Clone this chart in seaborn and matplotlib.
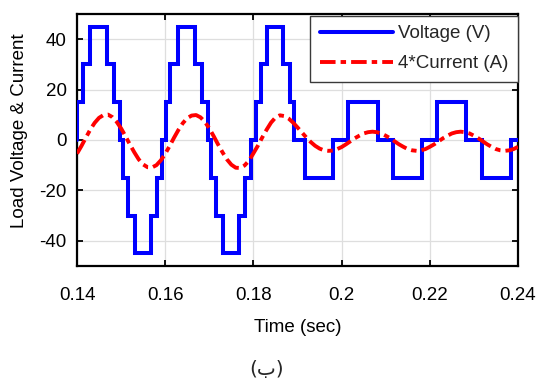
import numpy as np
import pandas as pd
import matplotlib
matplotlib.use("Agg")
import matplotlib.pyplot as plt
import seaborn as sns

# ---- data ----
# stepped load voltage: time of each switching instant and the level held after it
volt_t = [0.1400, 0.1401, 0.1413, 0.1430, 0.1469, 0.1484, 0.1497, 0.1504, 0.1516, 0.1532,
          0.1567, 0.1582, 0.1593,
          0.1601, 0.1612, 0.1630, 0.1668, 0.1683, 0.1696, 0.1704, 0.1716, 0.1732,
          0.1767, 0.1782, 0.1794,
          0.1806, 0.1817, 0.1830, 0.1868, 0.1883, 0.1893, 0.1917, 0.1981,
          0.2015, 0.2083, 0.2117, 0.2183, 0.2216, 0.2282, 0.2318, 0.2384, 0.2400]
volt_v = [0, 15, 30, 45, 30, 15, 0, -15, -30, -45,
          -30, -15, 0,
          15, 30, 45, 30, 15, 0, -15, -30, -45,
          -30, -15, 0,
          15, 30, 45, 30, 15, 0, -15, 0,
          15, 0, -15, 0, 15, 0, -15, 0, 0]

# 4*current sampled every millisecond from 0.14 s to 0.24 s
cur_t = np.linspace(0.14, 0.24, 101)
cur_v = [-5.4, -2.4, 0.9, 4.1, 6.8, 8.8, 9.9, 10.1, 9.1, 7.2,
         4.6, 1.5, -1.8, -4.9, -7.7, -9.7, -10.8, -10.9, -10.0, -8.1,
         -5.5, -2.4, 0.9, 4.0, 6.7, 8.7, 9.7, 9.9, 9.0, 7.2,
         4.6, 1.5, -1.8, -4.9, -7.7, -9.8, -11.0, -11.1, -10.1, -8.2,
         -5.3, -2.3, 1.0, 4.1, 6.9, 8.9, 9.8, 9.5, 8.5, 6.9,
         5.0, 3.0, 1.0, -0.8, -2.3, -3.4, -4.1, -4.3, -4.2, -3.6,
         -2.8, -1.7, -0.5, 0.7, 1.7, 2.6, 3.1, 3.3, 3.1, 2.6,
         1.7, 0.7, -0.5, -1.7, -2.7, -3.6, -4.1, -4.3, -4.1, -3.6,
         -2.7, -1.7, -0.5, 0.7, 1.7, 2.6, 3.1, 3.3, 3.1, 2.6,
         1.7, 0.7, -0.5, -1.7, -2.7, -3.6, -4.1, -4.3, -4.1, -3.6,
         -2.7]

x_ticks = [0.14, 0.16, 0.18, 0.20, 0.22, 0.24]
x_tick_labels = ["0.14", "0.16", "0.18", "0.2", "0.22", "0.24"]
y_ticks = [-40, -20, 0, 20, 40]
y_tick_labels = ["-40", "-20", "0", "20", "40"]
series_labels = ["Voltage (V)", "4*Current (A)"]

# ---- styling ----
sns.set_theme(style="ticks")
plt.rcParams['font.family'] = ['Liberation Sans', 'DejaVu Sans']
FS = 13.5

fig = plt.figure(figsize=(5.39, 3.78), dpi=100)
W, H = 539, 378
ax = fig.add_axes([77 / W, 1 - 266 / H, 441 / W, 252 / H])

df_v = pd.DataFrame({"t": volt_t, "v": volt_v})
df_c = pd.DataFrame({"t": cur_t, "c": cur_v})

sns.lineplot(data=df_v, x="t", y="v", ax=ax, color="#0000ff", linewidth=2.9,
             drawstyle="steps-post", estimator=None, sort=False,
             label=series_labels[0], zorder=3)
sns.lineplot(data=df_c, x="t", y="c", ax=ax, color="#ff0000", linewidth=2.8,
             estimator=None, sort=False, label=series_labels[1], zorder=4)
ax.lines[1].set_linestyle((0, (4.0, 1.3, 1.4, 1.3)))
ax.lines[0].set_solid_joinstyle("miter")

ax.set_xlim(0.14, 0.24)
ax.set_ylim(-50, 50)
ax.set_xticks(x_ticks)
ax.set_xticklabels(x_tick_labels)
ax.set_yticks(y_ticks)
ax.set_yticklabels(y_tick_labels)

ax.grid(True, color="#dedede", linewidth=0.9)
ax.set_axisbelow(True)
for s in ax.spines.values():
    s.set_visible(True)
    s.set_color("black")
    s.set_linewidth(1.6)
ax.tick_params(axis="both", direction="in", top=True, right=True, length=4,
               width=1.3, color="black", labelsize=FS, labelcolor="black")
ax.tick_params(axis="x", pad=15)
ax.tick_params(axis="y", pad=7.5)

ax.set_xlabel("Time (sec)", fontsize=FS, color="black")
ax.set_ylabel("Load Voltage & Current", fontsize=FS, color="black")
ax.xaxis.set_label_coords(0.5, (266 - 319) / 252)
ax.yaxis.set_label_coords((28 - 77) / 441, (266 - 131) / 252)

leg = ax.legend(loc="upper right", bbox_to_anchor=(1.0, (266 - 16) / 252),
                borderaxespad=0, fontsize=FS, frameon=True, fancybox=False,
                framealpha=1, edgecolor="#3a3a3a", handlelength=3.9,
                handletextpad=0.3, borderpad=0.5, labelspacing=0.68)
leg.get_frame().set_linewidth(1.0)

fig.text(267 / W, 1 - 369 / H, "(ب)", fontsize=14.5, ha="center", va="center",
         family=['DejaVu Sans', 'Liberation Sans'])

fig.savefig("out.png", dpi=100)
